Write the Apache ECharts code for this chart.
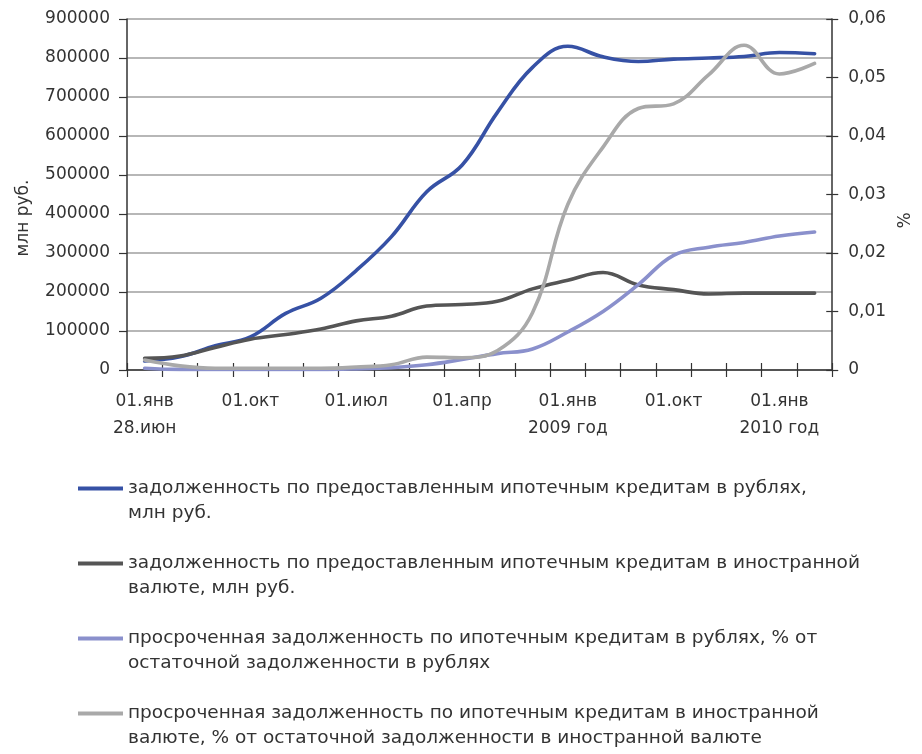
<!DOCTYPE html>
<html>
<head>
<meta charset="utf-8">
<script src="https://cdn.jsdelivr.net/npm/echarts@6/dist/echarts.min.js"></script>
<style>
  html, body { margin: 0; padding: 0; background: #ffffff; }
  #chart { width: 922px; height: 754px; }
</style>
</head>
<body>
<div id="chart"></div>
<script>
// Quarter labels along the x axis (only every third one is printed)
const categories = [
  '01.янв\n28.июн', '', '', '01.окт', '', '', '01.июл', '', '', '01.апр',
  '', '', '01.янв\n2009 год', '', '', '01.окт', '', '', '01.янв\n2010 год', ''
];

// Outstanding mortgage debt, mln rub (left axis)
const rubDebt = [
  23000, 34000, 62000, 85000, 145000, 184000, 255000, 342000, 457000, 525000,
  660000, 776000, 830000, 803000, 791000, 797000, 800000, 804000, 814000, 811000
];
const fxDebt = [
  30000, 36000, 58000, 79000, 91000, 105000, 126000, 138000, 164000, 168000,
  176000, 208000, 230000, 250000, 218000, 206000, 195000, 197000, 197000, 197000
];

// Overdue share of outstanding debt (right axis)
const rubOverdue = [
  0.0003, 0.0001, 0.0001, 0.0001, 0.0001, 0.0001, 0.0002, 0.0004, 0.0009, 0.0018,
  0.0028, 0.0036, 0.0065, 0.0100, 0.0146, 0.0196, 0.0210, 0.0218, 0.0229, 0.0236
];
const fxOverdue = [
  0.0017, 0.0007, 0.0003, 0.0003, 0.0003, 0.0003, 0.0005, 0.0009, 0.0022, 0.0021,
  0.0033, 0.0098, 0.0283, 0.0381, 0.0447, 0.0455, 0.0505, 0.0555, 0.0506, 0.0524
];

// Left axis ticks: 0 .. 900000 step 100000; right axis: 0 .. 0.06 step 0.01
const leftMax = 900000, leftStep = 100000;
const rightMax = 0.06, rightStep = 0.01;

// Legend entries: first line goes next to the swatch, second line wraps below it
const seriesNames = [
  'задолженность по предоставленным ипотечным кредитам в рублях,',
  'задолженность по предоставленным ипотечным кредитам в иностранной',
  'просроченная задолженность по ипотечным кредитам в рублях, % от',
  'просроченная задолженность по ипотечным кредитам в иностранной'
];
const seriesNamesCont = [
  'млн руб.',
  'валюте, млн руб.',
  'остаточной задолженности в рублях',
  'валюте, % от остаточной задолженности в иностранной валюте'
];
const seriesColors = ['#3651a5', '#555555', '#8a90cc', '#a9a9a9'];

const FONT = 'DejaVu Sans';
const TEXT = '#333333';
const AXIS = '#333333';
const LEGEND_FONT = 18.5;

const chart = echarts.init(document.getElementById('chart'), null, { renderer: 'canvas' });

const fmtRight = v => (v === 0 ? '0' : v.toFixed(2).replace('.', ','));

const legendLeft = 78, legendSwatch = 45, legendTop = 476, legendStep = 75, legendLine = 25;

const option = {
  backgroundColor: '#ffffff',
  animation: false,
  textStyle: { fontFamily: FONT },
  grid: { left: 127, right: 86, top: 19, bottom: 384, containLabel: false },
  legend: {
    data: seriesNames,
    orient: 'vertical',
    left: legendLeft,
    top: legendTop,
    padding: 0,
    itemGap: legendStep - legendLine,
    itemWidth: legendSwatch,
    itemHeight: 4,
    icon: 'rect',
    selectedMode: false,
    textStyle: { fontFamily: FONT, fontSize: LEGEND_FONT, color: TEXT, lineHeight: legendLine }
  },
  graphic: seriesNamesCont.map((t, i) => ({
    type: 'text',
    left: legendLeft + legendSwatch + 5,
    top: legendTop + legendLine + i * legendStep,
    style: { text: t, font: LEGEND_FONT + 'px "' + FONT + '"', fill: TEXT, lineHeight: legendLine }
  })),
  xAxis: [
    {
      type: 'category',
      data: categories,
      position: 'bottom',
      boundaryGap: true,
      axisLine: { lineStyle: { color: AXIS, width: 1.5 } },
      axisTick: { show: true, interval: 0, length: 7, lineStyle: { color: AXIS, width: 1.2 } },
      axisLabel: {
        interval: 0, margin: 18, color: TEXT, fontFamily: FONT, fontSize: 17, lineHeight: 27
      },
      splitLine: { show: false }
    },
    {
      // inner half of the crossing tick marks
      type: 'category',
      data: categories,
      position: 'bottom',
      boundaryGap: true,
      axisLine: { show: false },
      axisTick: { show: true, inside: true, interval: 0, length: 7, lineStyle: { color: AXIS, width: 1.2 } },
      axisLabel: { show: false },
      splitLine: { show: false }
    }
  ],
  yAxis: [
    {
      type: 'value',
      min: 0, max: leftMax, interval: leftStep,
      position: 'left',
      name: 'млн руб.',
      nameLocation: 'middle',
      nameGap: 95,
      nameTextStyle: { color: TEXT, fontFamily: FONT, fontSize: 17, padding: [0, 47, 0, 0] },
      axisLine: { show: true, lineStyle: { color: AXIS, width: 1.5 } },
      axisTick: { show: true, length: 8, lineStyle: { color: AXIS, width: 1.2 } },
      axisLabel: { margin: 17, color: TEXT, fontFamily: FONT, fontSize: 17, formatter: v => String(v) },
      splitLine: { show: true, lineStyle: { color: '#b7b7b7', width: 2 } }
    },
    {
      type: 'value',
      min: 0, max: rightMax, interval: rightStep,
      position: 'right',
      name: '%',
      nameLocation: 'middle',
      nameGap: 53,
      nameTextStyle: { color: TEXT, fontFamily: FONT, fontSize: 17, padding: [0, 52, 0, 0] },
      axisLine: { show: true, lineStyle: { color: AXIS, width: 1.5 } },
      axisTick: { show: true, length: 6, lineStyle: { color: AXIS, width: 1.2 } },
      axisLabel: { margin: 16, color: TEXT, fontFamily: FONT, fontSize: 17, formatter: fmtRight },
      splitLine: { show: false }
    },
    {
      // inner half of the crossing tick marks on the right axis
      type: 'value',
      min: 0, max: rightMax, interval: rightStep,
      position: 'right',
      axisLine: { show: false },
      axisTick: { show: true, inside: true, length: 6, lineStyle: { color: AXIS, width: 1.2 } },
      axisLabel: { show: false },
      splitLine: { show: false }
    }
  ],
  series: [
    { name: seriesNames[0], data: rubDebt, yAxisIndex: 0 },
    { name: seriesNames[1], data: fxDebt, yAxisIndex: 0 },
    { name: seriesNames[2], data: rubOverdue, yAxisIndex: 1 },
    { name: seriesNames[3], data: fxOverdue, yAxisIndex: 1 }
  ].map((s, i) => Object.assign({
    type: 'line',
    xAxisIndex: 0,
    smooth: 0.4,
    showSymbol: false,
    symbol: 'none',
    color: seriesColors[i],
    lineStyle: { color: seriesColors[i], width: 3.6, cap: 'round', join: 'round' },
    z: 3
  }, s))
};

chart.setOption(option);
</script>
</body>
</html>
